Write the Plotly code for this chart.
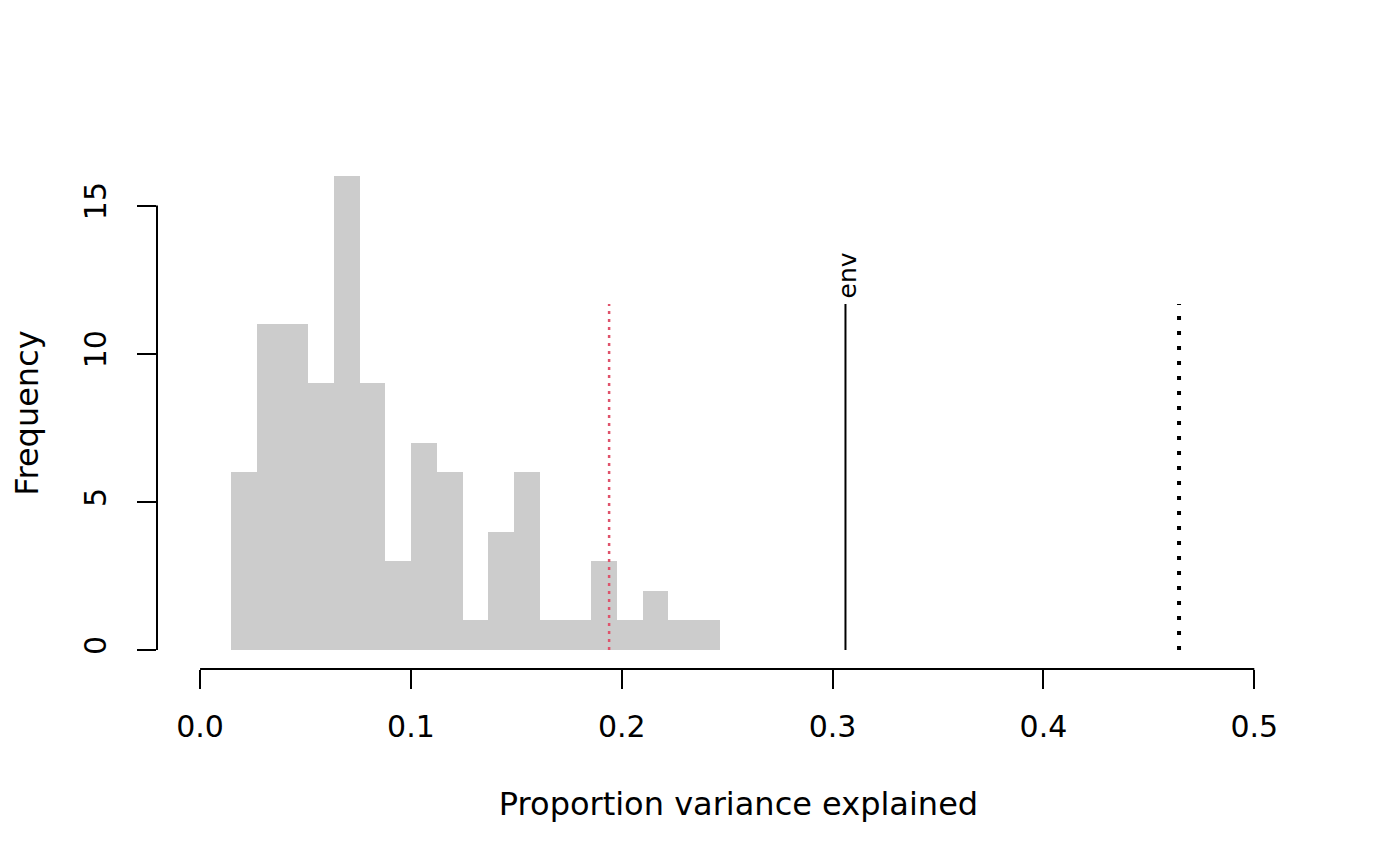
import plotly.graph_objects as go

# Histogram breaks (bin edges) and counts
breaks = [0.0147, 0.0269, 0.0391, 0.0513, 0.0635, 0.0757, 0.0879, 0.1001,
          0.1123, 0.1245, 0.1367, 0.1489, 0.1611, 0.1733, 0.1855, 0.1977,
          0.2099, 0.2221, 0.2343, 0.2465]
counts = [6, 11, 11, 9, 16, 9, 3, 7, 6, 1, 4, 6, 1, 1, 3, 1, 2, 1, 1]

# Reference lines
red_line_x = 0.1940
env_x = 0.3061
total_x = 0.4643
line_top = 11.68

x_ticks = [0.0, 0.1, 0.2, 0.3, 0.4, 0.5]
x_tick_labels = ["0.0", "0.1", "0.2", "0.3", "0.4", "0.5"]
y_ticks = [0, 5, 10, 15]
y_tick_labels = ["0", "5", "10", "15"]

FONT = "DejaVu Sans"

centers = [(breaks[i] + breaks[i + 1]) / 2 for i in range(len(counts))]
widths = [breaks[i + 1] - breaks[i] for i in range(len(counts))]

fig = go.Figure()
fig.add_trace(go.Bar(x=centers, y=counts, width=widths,
                     marker=dict(color="#CCCCCC", line=dict(width=0)),
                     showlegend=False, hoverinfo="x+y"))

fig.add_trace(go.Scatter(x=[red_line_x, red_line_x], y=[0, line_top], mode="lines",
                         line=dict(color="#DF536B", width=2.5, dash="3px,5px"),
                         showlegend=False))
fig.add_trace(go.Scatter(x=[env_x, env_x], y=[0, line_top], mode="lines",
                         line=dict(color="black", width=2),
                         showlegend=False))
fig.add_trace(go.Scatter(x=[total_x, total_x], y=[0, line_top], mode="lines",
                         line=dict(color="black", width=4, dash="4px,11px"),
                         showlegend=False))

fig.add_annotation(x=env_x, y=line_top, text="env", textangle=-90,
                   showarrow=False, xanchor="center", yanchor="bottom",
                   xshift=2, yshift=4, font=dict(family=FONT, size=25, color="black"))

xmax = total_x * 1.1
fig.update_layout(
    width=1400, height=865,
    margin=dict(l=149, r=88, t=149, b=204),
    paper_bgcolor="white", plot_bgcolor="white",
    font=dict(family=FONT, color="black"),
    bargap=0,
    xaxis=dict(range=[-0.04 * xmax, 1.04 * xmax], showgrid=False, zeroline=False,
               showline=False, ticks="outside", ticklen=19, tickwidth=2,
               tickcolor="black", tickvals=x_ticks, ticktext=x_tick_labels,
               ticklabelstandoff=12,
               tickfont=dict(family=FONT, size=30),
               title=dict(text="Proportion variance explained",
                          font=dict(family=FONT, size=32), standoff=49)),
    yaxis=dict(range=[-0.64, 16.64], showgrid=False, zeroline=False,
               showline=False, ticks="outside", ticklen=19, tickwidth=2,
               tickcolor="black", tickvals=y_ticks, ticktext=y_tick_labels,
               tickangle=-90, ticklabelstandoff=19,
               tickfont=dict(family=FONT, size=30),
               title=dict(text="Frequency", font=dict(family=FONT, size=32),
                          standoff=32)),
)

# R-style axis lines spanning only the tick range
fig.add_shape(type="line", xref="x", yref="paper", x0=0, x1=0.5, y0=0, y1=0,
              line=dict(color="black", width=2))
fig.add_shape(type="line", xref="paper", yref="y", x0=0, x1=0, y0=0, y1=15,
              line=dict(color="black", width=2))

fig.write_html("out.html")
